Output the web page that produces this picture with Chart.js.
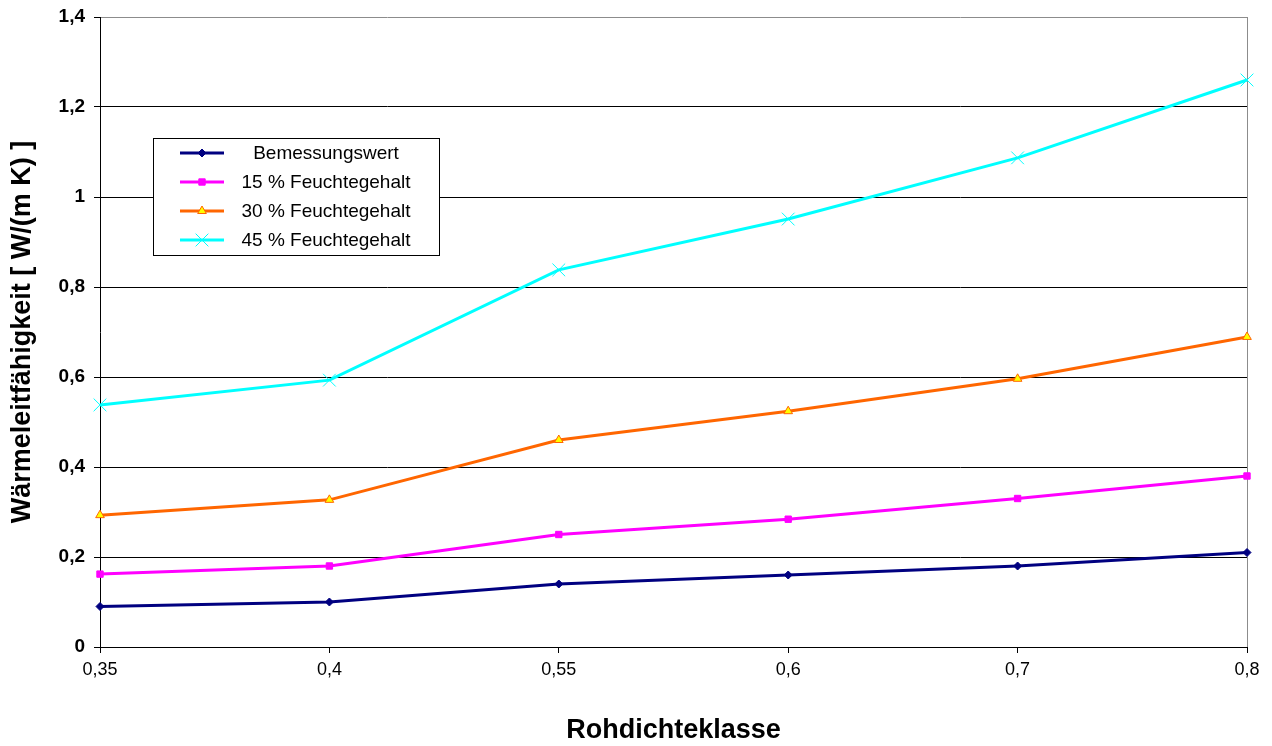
<!DOCTYPE html>
<html>
<head>
<meta charset="utf-8">
<script src="https://cdn.jsdelivr.net/npm/chart.js@4/dist/chart.umd.min.js"></script>
<style>
    body { margin: 0; background: #fff; }
    #wrap { width: 1272px; height: 746px; }
</style>
</head>
<body>
<div id="wrap"><canvas id="waerme" width="1272" height="746"></canvas></div>
<script>
// x categories (Rohdichteklasse)
const classes = ["0,35", "0,4", "0,55", "0,6", "0,7", "0,8"];
// series values
const bemessung = [0.09, 0.10, 0.14, 0.16, 0.18, 0.21];
const feuchte15 = [0.162, 0.18, 0.25, 0.284, 0.33, 0.38];
const feuchte30 = [0.293, 0.327, 0.46, 0.524, 0.596, 0.689];
const feuchte45 = [0.538, 0.593, 0.838, 0.951, 1.087, 1.26];
const seriesNames = ["Bemessungswert", "15 % Feuchtegehalt", "30 % Feuchtegehalt", "45 % Feuchtegehalt"];

const FONT = "'Liberation Sans', Arial, sans-serif";

// legend box drawn inside the plot, like the original
const boxLegend = {
    id: "boxLegend",
    afterDraw(chart) {
        const ctx = chart.ctx;
        ctx.save();
        ctx.fillStyle = "#fff";
        ctx.fillRect(153, 138, 286, 117);
        ctx.strokeStyle = "#000";
        ctx.lineWidth = 1;
        ctx.strokeRect(153.5, 138.5, 286, 117);
        chart.data.datasets.forEach((ds, i) => {
            const y = 153 + i * 29;
            ctx.strokeStyle = ds.borderColor;
            ctx.lineWidth = 3;
            ctx.beginPath();
            ctx.moveTo(180, y);
            ctx.lineTo(224, y);
            ctx.stroke();
            ctx.fillStyle = ds.pointBackgroundColor;
            ctx.strokeStyle = ds.pointBorderColor;
            ctx.lineWidth = ds.pointBorderWidth;
            Chart.helpers.drawPoint(ctx, {
                pointStyle: ds.pointStyle,
                radius: ds.pointRadius,
                borderWidth: ds.pointBorderWidth,
                rotation: 0
            }, 202, y);
            ctx.fillStyle = "#000";
            ctx.font = "19px " + FONT;
            ctx.textAlign = "center";
            ctx.textBaseline = "middle";
            ctx.fillText(ds.label, 326, y + 1);
        });
        ctx.restore();
    }
};

const ctx = document.getElementById("waerme").getContext("2d");
new Chart(ctx, {
    type: "line",
    data: {
        labels: classes,
        datasets: [
            {
                label: seriesNames[0],
                data: bemessung,
                borderColor: "#000080",
                borderWidth: 3,
                pointStyle: "rectRot",
                pointRadius: 4,
                pointBackgroundColor: "#000080",
                pointBorderColor: "#000080",
                pointBorderWidth: 1
            },
            {
                label: seriesNames[1],
                data: feuchte15,
                borderColor: "#FF00FF",
                borderWidth: 3,
                pointStyle: "rect",
                pointRadius: 4.5,
                pointBackgroundColor: "#FF00FF",
                pointBorderColor: "#FF00FF",
                pointBorderWidth: 1
            },
            {
                label: seriesNames[2],
                data: feuchte30,
                borderColor: "#FF6600",
                borderWidth: 3,
                pointStyle: "triangle",
                pointRadius: 5,
                pointBackgroundColor: "#FFFF00",
                pointBorderColor: "#FF6600",
                pointBorderWidth: 1
            },
            {
                label: seriesNames[3],
                data: feuchte45,
                borderColor: "#00FFFF",
                borderWidth: 3,
                pointStyle: "crossRot",
                pointRadius: 9,
                pointBackgroundColor: "#00FFFF",
                pointBorderColor: "#00FFFF",
                pointBorderWidth: 1
            }
        ]
    },
    options: {
        responsive: false,
        animation: false,
        layout: { padding: { top: 17, right: 25, left: 0, bottom: 0 } },
        elements: { line: { tension: 0 } },
        plugins: {
            legend: { display: false },
            tooltip: { enabled: false }
        },
        scales: {
            x: {
                offset: false,
                grid: {
                    // only the right frame line is visible
                    color: (c) => c.index === classes.length - 1 ? "#8c8c8c" : "rgba(0,0,0,0)",
                    tickColor: "#000",
                    tickLength: 6
                },
                border: { color: "#000", width: 1 },
                ticks: {
                    color: "#000",
                    padding: 6,
                    maxRotation: 0,
                    font: { family: FONT, size: 18 }
                },
                title: {
                    display: true,
                    text: "Rohdichteklasse",
                    color: "#000",
                    padding: { top: 0, bottom: -1 },
                    font: { family: FONT, size: 27, weight: "bold" }
                },
                afterFit: (scale) => { scale.height = 99; }
            },
            y: {
                min: 0,
                max: 1.4,
                grid: {
                    color: (c) => c.tick && c.tick.value > 1.39 ? "#8c8c8c" : "#000",
                    tickColor: "#000",
                    tickLength: 6
                },
                border: { color: "#000", width: 1 },
                ticks: {
                    stepSize: 0.2,
                    color: "#000",
                    padding: 9,
                    font: { family: FONT, size: 19, weight: "bold" },
                    callback: (v) => String(Math.round(v * 10) / 10).replace(".", ",")
                },
                title: {
                    display: true,
                    text: "Wärmeleitfähigkeit [ W/(m K) ]",
                    color: "#000",
                    padding: { top: 6, bottom: 0 },
                    font: { family: FONT, size: 27, weight: "bold" }
                },
                afterFit: (scale) => {
                    scale.width = 100;
                    scale.paddingTop = 0;
                    scale.paddingBottom = 0;
                }
            }
        }
    },
    plugins: [boxLegend]
});
</script>
</body>
</html>
